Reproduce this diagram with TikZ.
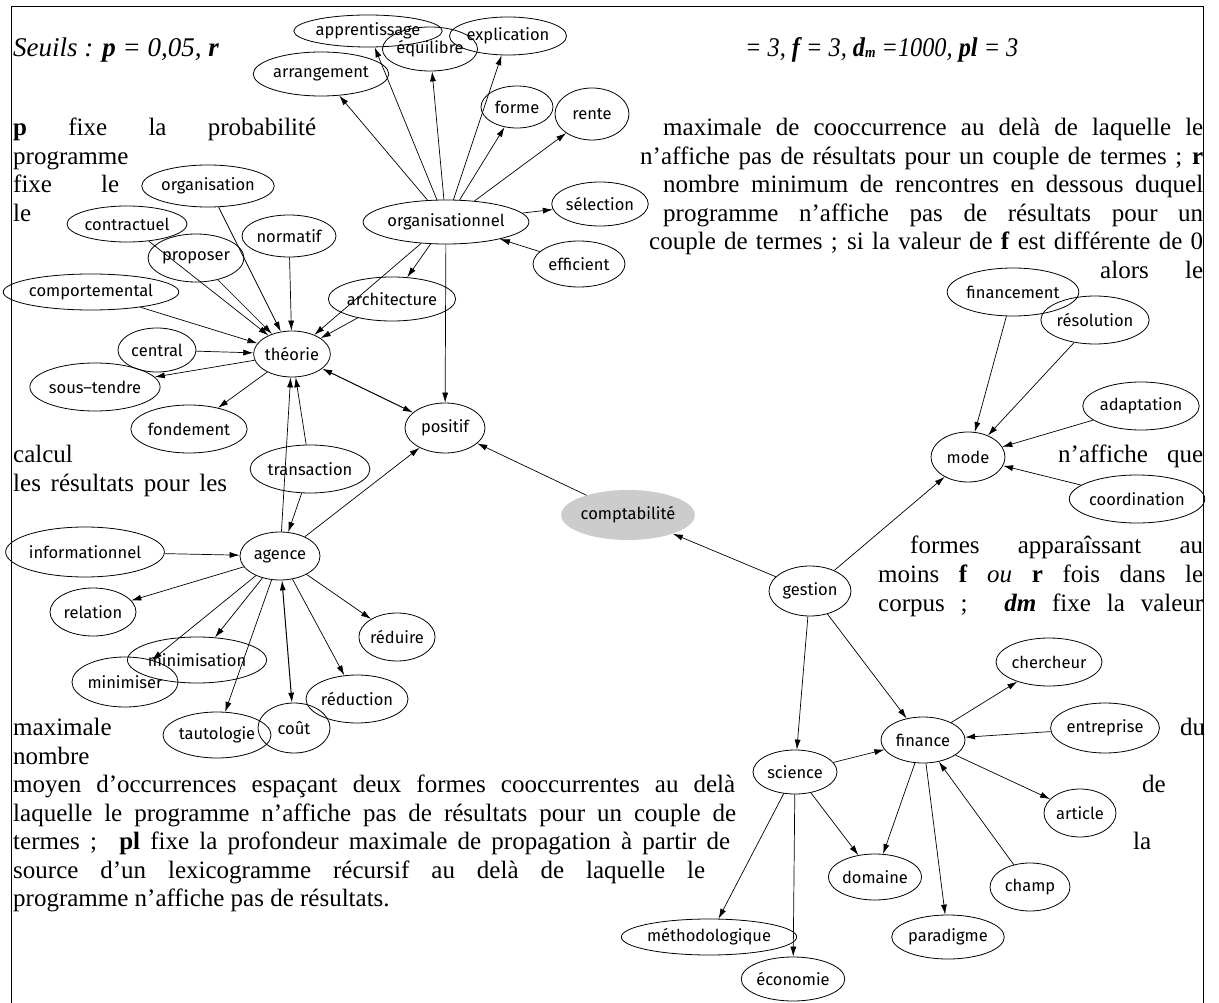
\documentclass[tikz,border=0pt]{standalone}
\usepackage{fontspec}
\setmainfont{Liberation Serif}
\newfontfamily\labfont{Fira Sans}
\usetikzlibrary{arrows.meta,shapes.geometric}
\newcommand\E[5]{\node[nd,minimum width=#4pt,minimum height=#5pt] (#1) at (#2) {#3};}
\newcommand\J[5]{\node[tx] (#1) at (#2,#4) {\makebox[\dimexpr #3pt - #2pt\relax][s]{#5}};}
\newcommand\T[4]{\node[tx] (#1) at (#2,#3) {#4};}
\begin{document}
\begin{tikzpicture}[x=1pt,y=-1pt,
  nd/.style={ellipse,draw,line width=0.8pt,inner sep=0pt,font=\labfont\fontsize{16.5}{16.5}\selectfont},
  ar/.style={-{Latex[length=10pt,width=6pt]},line width=0.7pt},
  ar2/.style={{Latex[length=10pt,width=6pt]}-{Latex[length=10pt,width=6pt]},line width=1pt},
  tx/.style={anchor=base west,inner sep=0pt,font=\fontsize{25}{28}\selectfont}]
\useasboundingbox (0,0) rectangle (1219,1003);
\draw[line width=1pt] (11,1003) -- (11,7) -- (1203,7) -- (1203,1003);
% header
\node[anchor=base west,inner sep=0pt,font=\fontsize{27}{30}\selectfont\itshape] (h1) at (13,57) {Seuils : \textbf{p} = 0,05, \textbf{r}};
\node[anchor=base west,inner sep=0pt,font=\fontsize{27}{30}\selectfont\itshape] (h2) at (745,57) {\scalebox{0.9}[1]{= 3, \textbf{f} = 3, \textbf{d}\raisebox{-1pt}{\fontsize{15}{15}\selectfont\textbf{m}} =1000, \textbf{pl} = 3}};
% left text
\J{l1}{13}{316}{136}{\textbf{p} fixe la probabilité}
\T{l2}{13}{164.5}{programme}
\J{l3}{13}{119}{193}{fixe le}
\T{l4}{13}{221.5}{le}
\T{l5}{13}{462}{calcul}
\J{l6}{13}{227}{491}{les résultats pour les}
\T{l7}{13}{735}{maximale}
\T{l8}{13}{764}{nombre}
\J{l9}{13}{735}{792}{moyen d'occurrences espaçant deux formes cooccurrentes au delà}
\J{l10}{13}{736}{821}{laquelle le programme n'affiche pas de résultats pour un couple de}
\J{l11}{13}{730}{849}{termes ; \ \textbf{pl} fixe la profondeur maximale de propagation à partir de}
\J{l12}{13}{705}{878}{source d'un lexicogramme récursif au delà de laquelle le}
\T{l13}{13}{906}{programme n'affiche pas de résultats.}
% right text
\J{r1}{663}{1203}{136}{maximale de cooccurrence au delà de laquelle le}
\J{r2}{640}{1203}{164.5}{n'affiche pas de résultats pour un couple de termes ; \textbf{r}}
\J{r3}{663}{1203}{193}{nombre minimum de rencontres en dessous duquel}
\J{r4}{663}{1203}{221.5}{programme n'affiche pas de résultats pour un}
\J{r5}{649}{1203}{250}{couple de termes ; si la valeur de \textbf{f} est différente de 0}
\J{r6}{1100}{1203}{278.5}{alors le}
\J{r7}{1058}{1203}{462}{n'affiche que}
\J{r8}{910}{1203}{553}{formes apparaîssant au}
\J{r9}{878}{1203}{582}{moins \textbf{f} \textit{ou} \textbf{r} fois dans le}
\J{r10}{878}{1203}{611}{corpus ; \ \textbf{\textit{dm}} fixe la valeur}
\T{r11}{1180}{735}{du}
\T{r12}{1142}{792}{de}
\T{r13}{1133}{849}{la}
% nodes
\E{appr}{368,31}{apprentissage}{132}{32}
\E{equi}{430,49}{équilibre}{88}{44}
\E{expl}{508,36}{explication}{114}{38}
\E{arra}{321,74}{arrangement}{128}{44}
\E{form}{517,107}{forme}{72}{42}
\E{rent}{592,114}{rente}{74}{52}
\E{sele}{600,204}{sélection}{82}{44}
\E{orgl}{446,222}{organisationnel}{158}{44}
\E{effi}{579,264}{efficient}{92}{46}
\E{orgn}{208,186}{organisation}{128}{42}
\E{cont}{127,224}{contractuel}{114}{36}
\E{norm}{289,236}{normatif}{94}{42}
\E{prop}{196,258}{proposer}{94}{48}
\E{comp}{91,292}{comportemental}{152}{36}
\E{arch}{392,299}{architecture}{118}{44}
\E{cent}{157,350}{central}{78}{44}
\E{theo}{292,354}{théorie}{74}{46}
\E{sous}{95,387}{sous–tendre}{116}{48}
\E{fond}{189,429}{fondement}{112}{48}
\E{posi}{445,428}{positif}{80}{50}
\E{tran}{310,469}{transaction}{114}{48}
\node[ellipse,fill=black!20,inner sep=0pt,minimum width=118pt,minimum height=50pt,font=\labfont\fontsize{16.5}{16.5}\selectfont] (compt) at (628,515) {comptabilité};
\E{agen}{280,556}{agence}{80}{48}
\E{info}{85,552}{informationnel}{144}{50}
\E{rela}{93,612}{relation}{86}{48}
\E{redi}{397,637}{réduire}{76}{48}
\E{mnms}{197,660}{minimisation}{132}{46}
\E{mnmr}{125,682}{minimiser}{106}{50}
\E{redc}{357,699}{réduction}{90}{48}
\E{cout}{294,728}{coût}{72}{50}
\E{taut}{217,735}{tautologie}{104}{46}
\E{fina}{1013,292}{financement}{124}{48}
\E{reso}{1095,320}{résolution}{98}{48}
\E{adap}{1141,406}{adaptation}{108}{48}
\E{mode}{968,457}{mode}{74}{50}
\E{coor}{1137,499}{coordination}{122}{48}
\E{gest}{810,591}{gestion}{82}{50}
\E{cher}{1049,662}{chercheur}{106}{48}
\E{entr}{1105,728}{entreprise}{104}{50}
\E{finc}{923,740}{finance}{84}{46}
\E{scie}{795,772}{science}{84}{44}
\E{arti}{1080,813}{article}{72}{48}
\E{doma}{875,877}{domaine}{84}{46}
\E{cham}{1030,887}{champ}{80}{48}
\E{meth}{709,937}{méthodologique}{134}{36}
\E{para}{948,937}{paradigme}{100}{44}
\E{econ}{793,979}{économie}{88}{44}
% edges
\draw[ar] (orgl) -- (arra);
\draw[ar] (orgl) -- (appr);
\draw[ar] (orgl) -- (equi);
\draw[ar] (orgl) -- (expl);
\draw[ar] (orgl) -- (form);
\draw[ar] (orgl) -- (rent);
\draw[ar] (orgl) -- (sele);
\draw[ar] (effi) -- (orgl);
\draw[ar] (orgl) -- (arch);
\draw[ar] (orgl) -- (theo);
\draw[ar] (orgl) -- (posi);
\draw[ar] (orgn) -- (theo);
\draw[ar] (cont) -- (theo);
\draw[ar] (prop) -- (theo);
\draw[ar] (norm) -- (theo);
\draw[ar] (comp) -- (theo);
\draw[ar] (cent) -- (theo);
\draw[ar] (arch) -- (theo);
\draw[ar] (theo) -- (sous);
\draw[ar] (theo) -- (fond);
\draw[ar2] (theo) -- (posi);
\draw[ar] (agen) -- (theo);
\draw[ar] (tran) -- (theo);
\draw[ar] (tran) -- (agen);
\draw[ar] (agen) -- (posi);
\draw[ar] (compt) -- (posi);
\draw[ar] (gest) -- (compt);
\draw[ar] (info) -- (agen);
\draw[ar] (agen) -- (rela);
\draw[ar] (agen) -- (mnms);
\draw[ar] (agen) -- (mnmr);
\draw[ar] (agen) -- (taut);
\draw[ar2] (agen) -- (cout);
\draw[ar] (agen) -- (redc);
\draw[ar] (agen) -- (redi);
\draw[ar] (gest) -- (mode);
\draw[ar] (fina) -- (mode);
\draw[ar] (reso) -- (mode);
\draw[ar] (adap) -- (mode);
\draw[ar] (coor) -- (mode);
\draw[ar] (gest) -- (scie);
\draw[ar] (gest) -- (finc);
\draw[ar] (finc) -- (cher);
\draw[ar] (entr) -- (finc);
\draw[ar] (scie) -- (finc);
\draw[ar] (finc) -- (arti);
\draw[ar] (cham) -- (finc);
\draw[ar] (finc) -- (doma);
\draw[ar] (scie) -- (doma);
\draw[ar] (finc) -- (para);
\draw[ar] (scie) -- (meth);
\draw[ar] (scie) -- (econ);
\end{tikzpicture}
\end{document}
